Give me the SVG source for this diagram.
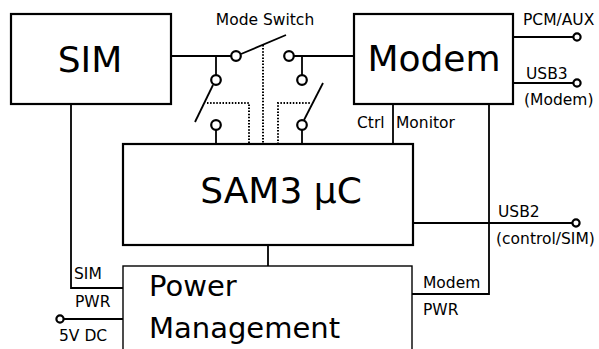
<svg xmlns="http://www.w3.org/2000/svg" width="599" height="349" viewBox="0 0 599 349">
<style>
.box{fill:#fff;stroke:#000;stroke-width:2.2}
.thin{fill:#fff;stroke:#000;stroke-width:1.4}
.big{font-family:"DejaVu Sans",sans-serif;font-size:36px;fill:#000}
.pm{font-family:"DejaVu Sans",sans-serif;font-size:29px;fill:#000}
.lbl{font-family:"DejaVu Sans",sans-serif;font-size:15.5px;fill:#000}
.w{fill:none;stroke:#000;stroke-width:1.8}
.dot{fill:none;stroke:#000;stroke-width:2;stroke-dasharray:1.5 1.6}
.term{fill:#fff;stroke:#000;stroke-width:2.2}
</style>
<rect width="599" height="349" fill="#fff"/>
<g id="connectors">
  <line class="w" x1="171" y1="56" x2="231" y2="56"/>
  <line class="w" x1="216" y1="56" x2="216" y2="75"/>
  <line class="w" x1="213" y1="85" x2="195" y2="122"/>
  <line class="w" x1="216" y1="130" x2="216" y2="144"/>
  <line class="w" x1="241" y1="54" x2="286" y2="35"/>
  <line class="w" x1="294" y1="56" x2="354" y2="56"/>
  <line class="w" x1="302" y1="56" x2="302" y2="75"/>
  <line class="w" x1="302" y1="130" x2="302" y2="144"/>
  <line class="w" x1="304" y1="120" x2="323" y2="83"/>
  <line class="dot" x1="263" y1="45" x2="263" y2="144"/>
  <polyline class="dot" points="207,103 249,103 249,144"/>
  <polyline class="dot" points="278,144 278,103 311,103"/>
  <line class="w" x1="393" y1="104" x2="393" y2="144"/>
  <polyline class="w" points="489,104 489,294 412,294"/>
  <line class="w" x1="513" y1="37" x2="573" y2="37"/>
  <line class="w" x1="513" y1="83" x2="573" y2="83"/>
  <line class="w" x1="413" y1="223" x2="572" y2="223"/>
  <line class="w" x1="268" y1="245" x2="268" y2="266"/>
  <polyline class="w" points="71,104 71,288 123,288"/>
  <line class="w" x1="64" y1="319" x2="123" y2="319"/>
  <circle class="term" cx="236" cy="56" r="4.8"/>
  <circle class="term" cx="216" cy="80" r="4.8"/>
  <circle class="term" cx="216" cy="125" r="4.8"/>
  <circle class="term" cx="289" cy="56" r="4.8"/>
  <circle class="term" cx="302" cy="80" r="4.8"/>
  <circle class="term" cx="302" cy="125" r="4.8"/>
  <circle class="term" cx="577" cy="37" r="3.6"/>
  <circle class="term" cx="577" cy="83" r="3.6"/>
  <circle class="term" cx="576" cy="223" r="3.6"/>
  <circle class="term" cx="60" cy="319" r="3.6"/>
  <text class="lbl" x="265" y="25" text-anchor="middle">Mode Switch</text>
  <text class="lbl" x="523" y="25">PCM/AUX</text>
  <text class="lbl" x="526" y="79">USB3</text>
  <text class="lbl" x="524" y="105">(Modem)</text>
  <text class="lbl" x="357" y="128">Ctrl</text>
  <text class="lbl" x="396" y="128">Monitor</text>
  <text class="lbl" x="498" y="217">USB2</text>
  <text class="lbl" x="496" y="244">(control/SIM)</text>
  <text class="lbl" x="74" y="279">SIM</text>
  <text class="lbl" x="75" y="307">PWR</text>
  <text class="lbl" x="59" y="341">5V DC</text>
  <text class="lbl" x="423" y="288">Modem</text>
  <text class="lbl" x="423" y="315">PWR</text>
</g>
<g id="sim">
  <rect class="box" x="11" y="14" width="160" height="90"/>
  <text class="big" x="90" y="72" text-anchor="middle">SIM</text>
</g>
<g id="modem">
  <rect class="box" x="354" y="14" width="159" height="90"/>
  <text class="big" x="434" y="71" text-anchor="middle">Modem</text>
</g>
<g id="sam3">
  <rect class="box" x="123" y="144" width="290" height="101"/>
  <text class="big" x="281" y="203" text-anchor="middle">SAM3 µC</text>
</g>
<g id="power">
  <rect class="thin" x="123" y="266" width="289" height="100"/>
  <text class="pm" x="149" y="296">Power</text>
  <text class="pm" x="149" y="338">Management</text>
</g>
</svg>
